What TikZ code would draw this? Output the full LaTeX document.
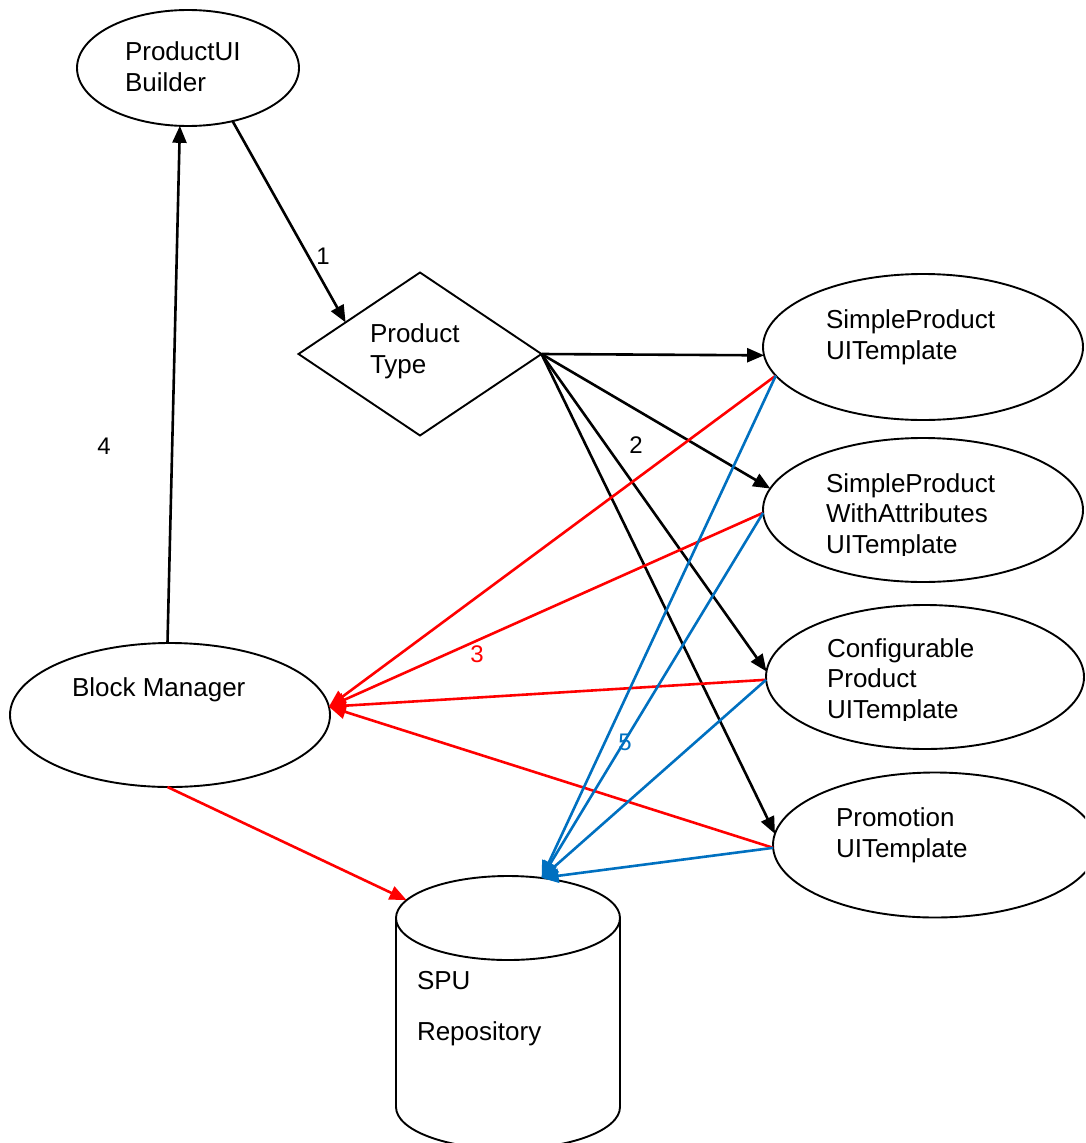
\documentclass[tikz,border=0pt]{standalone}
\usepackage{fontspec}
\setmainfont{Liberation Sans}
\usetikzlibrary{shapes.geometric,arrows.meta}
\definecolor{lnred}{HTML}{FF0000}
\definecolor{lnblue}{HTML}{0070C0}
\begin{document}
\begin{tikzpicture}[x=1pt,y=1pt,
  shp/.style={draw, line width=1.9pt, inner sep=0pt, outer sep=0pt},
  ell/.style={shp, ellipse},
  txt/.style={inner sep=0pt, outer sep=0pt, anchor=base west, align=left, font=\fontsize{26}{30.5}\selectfont},
  num/.style={inner sep=0pt, outer sep=0pt, font=\fontsize{24}{28}\selectfont},
  conn/.style={line width=2.6pt, -{Triangle[length=17pt,width=14pt]}},
  blk/.style={conn, draw=black},
  rd/.style={conn, draw=lnred, fill=lnred},
  bl/.style={conn, draw=lnblue, fill=lnblue}]
\useasboundingbox (0,0) rectangle (1085,-1143);
\clip (0,0) rectangle (1085,-1143);

% shapes
\node[ell, minimum width=222, minimum height=116] (pb) at (188,-68) {};
\node[shp, diamond, minimum width=243, minimum height=163] (pt) at (420,-354) {};
\node[ell, minimum width=320, minimum height=146] (sp) at (923,-347) {};
\node[ell, minimum width=320, minimum height=144] (spa) at (923,-510) {};
\node[ell, minimum width=318, minimum height=144] (cp) at (925,-677) {};
\node[ell, minimum width=324, minimum height=145] (pr) at (935,-845) {};
\node[ell, minimum width=320, minimum height=144] (bm) at (170,-715) {};
\node[ell, minimum width=224, minimum height=84] (db) at (508,-918) {};
\draw[line width=1.9pt] (db.west) -- (396,-1107) arc[start angle=180, end angle=360, x radius=112pt, y radius=42pt] -- (db.east);

% texts (base anchor = last line baseline)
\node[txt] (pbt) at (125,-91) {ProductUI\\Builder};
\node[txt] (ptt) at (370,-373) {Product\\Type};
\node[txt] (spt) at (826,-359) {SimpleProduct\\UITemplate};
\begin{scope}
\clip (815,-460) rectangle (1015,-555);
\node[txt] (spat) at (826,-553) {SimpleProduct\\WithAttributes\\UITemplate};
\end{scope}
\begin{scope}
\clip (815,-625) rectangle (1015,-720);
\node[txt] (cpt) at (827,-718) {Configurable\\Product\\UITemplate};
\end{scope}
\node[txt] (prt) at (836,-857) {Promotion\\UITemplate};
\node[txt] (bmt) at (72,-696) {Block Manager};
\node[txt] (dbt1) at (417,-989) {SPU};
\node[txt] (dbt2) at (417,-1040) {Repository};

% black connectors
\draw[blk] (pb.-50) -- (pt.157);
\draw[blk] (bm.92) -- (pb.262);
\draw[blk] (pt.east) -- (sp.183);
\draw[blk] (pt.east) -- (spa.172);
\draw[blk] (pt.east) -- (cp.178);
\draw[blk] (pt.east) -- (pr.176);

% red connectors
\draw[rd] (sp.191) -- (bm.3);
\draw[rd] (spa.181) -- (bm.3);
\draw[rd] (cp.181) -- (bm.3);
\draw[rd] (pr.181) -- (bm.3);
\draw[rd] (bm.268) -- (db.170);

% blue connectors
\draw[bl] (sp.191) -- (db.50);
\draw[bl] (spa.181) -- (db.50);
\draw[bl] (cp.181) -- (db.50);
\draw[bl] (pr.181) -- (db.50);

% labels
\node[num] (l1) at (323,-256) {1};
\node[num] (l4) at (104,-446) {4};
\node[num] (l2) at (636,-445) {2};
\node[num, text=lnred] (l3) at (477,-654) {3};
\node[num, text=lnblue] (l5) at (625,-742) {5};
\end{tikzpicture}
\end{document}
